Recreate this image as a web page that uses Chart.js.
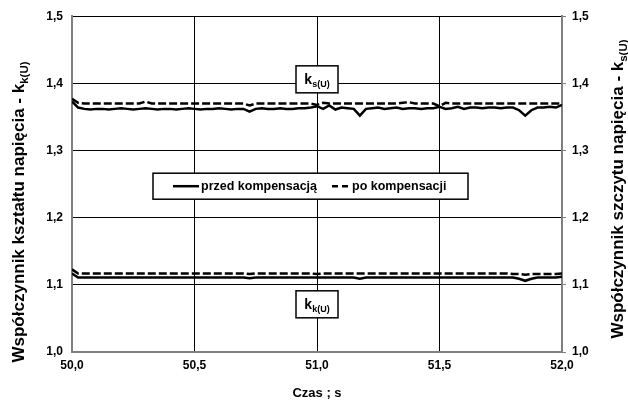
<!DOCTYPE html>
<html><head><meta charset="utf-8">
<script src="https://cdn.jsdelivr.net/npm/chart.js@4/dist/chart.umd.min.js"></script>
<style>html,body{margin:0;padding:0;background:#fff;}#wrap{width:628px;height:403px;position:relative;}</style>
</head><body><div id="wrap"><canvas id="c" width="628" height="403"></canvas></div>
<script>
// ---- data ----
const times = [50.000,50.025,50.050,50.075,50.100,50.125,50.150,50.175,50.200,50.225,50.250,50.275,50.300,50.325,50.350,50.375,50.400,50.425,50.450,50.475,
50.500,50.525,50.550,50.575,50.600,50.625,50.650,50.675,50.700,50.725,50.750,50.775,50.800,50.825,50.850,50.875,50.900,50.925,50.950,50.975,
51.000,51.025,51.050,51.075,51.100,51.125,51.150,51.175,51.200,51.225,51.250,51.275,51.300,51.325,51.350,51.375,51.400,51.425,51.450,51.475,
51.500,51.525,51.550,51.575,51.600,51.625,51.650,51.675,51.700,51.725,51.750,51.775,51.800,51.825,51.850,51.875,51.900,51.925,51.950,51.975,52.000];
// k_s(U) before compensation (solid)
const ksBefore = [1.373,1.364,1.362,1.361,1.362,1.362,1.361,1.362,1.363,1.362,1.361,1.362,1.363,1.362,1.361,1.362,1.362,1.361,1.362,1.363,
1.362,1.361,1.362,1.362,1.363,1.362,1.361,1.362,1.362,1.358,1.362,1.363,1.362,1.362,1.363,1.362,1.362,1.363,1.363,1.364,
1.366,1.362,1.367,1.361,1.364,1.363,1.362,1.352,1.362,1.363,1.364,1.362,1.363,1.364,1.362,1.363,1.363,1.362,1.363,1.363,
1.365,1.362,1.363,1.365,1.362,1.364,1.364,1.363,1.364,1.364,1.363,1.364,1.364,1.360,1.352,1.360,1.364,1.364,1.365,1.364,1.368];
// k_s(U) after compensation (dashed)
const ksAfter = [1.377,1.371,1.370,1.370,1.370,1.370,1.370,1.370,1.370,1.370,1.370,1.370,1.373,1.370,1.370,1.370,1.370,1.370,1.370,1.370,
1.370,1.370,1.370,1.370,1.370,1.370,1.370,1.370,1.370,1.367,1.370,1.370,1.370,1.370,1.370,1.370,1.370,1.370,1.370,1.370,
1.368,1.371,1.370,1.370,1.370,1.370,1.370,1.370,1.370,1.370,1.370,1.370,1.370,1.370,1.371,1.372,1.370,1.370,1.370,1.370,
1.366,1.371,1.370,1.370,1.370,1.370,1.370,1.370,1.370,1.370,1.370,1.370,1.370,1.370,1.370,1.370,1.370,1.370,1.370,1.370,1.370];
// k_k(U) before compensation (solid)
const kkBefore = [1.117,1.111,1.111,1.111,1.111,1.111,1.111,1.111,1.111,1.111,1.111,1.111,1.111,1.111,1.111,1.111,1.111,1.111,1.111,1.111,
1.111,1.111,1.111,1.111,1.111,1.111,1.111,1.111,1.111,1.110,1.111,1.111,1.111,1.111,1.111,1.111,1.111,1.111,1.111,1.111,
1.111,1.111,1.111,1.111,1.111,1.111,1.111,1.109,1.111,1.111,1.111,1.111,1.111,1.111,1.111,1.111,1.111,1.111,1.111,1.111,
1.111,1.111,1.111,1.111,1.111,1.111,1.111,1.111,1.111,1.111,1.111,1.111,1.111,1.109,1.106,1.109,1.111,1.111,1.111,1.111,1.112];
// k_k(U) after compensation (dashed)
const kkAfter = [1.123,1.117,1.117,1.117,1.117,1.117,1.117,1.117,1.117,1.117,1.117,1.117,1.117,1.117,1.117,1.117,1.117,1.117,1.117,1.117,
1.117,1.117,1.117,1.117,1.117,1.117,1.117,1.117,1.117,1.116,1.117,1.117,1.117,1.117,1.117,1.117,1.117,1.117,1.117,1.117,
1.116,1.117,1.117,1.117,1.117,1.117,1.117,1.117,1.117,1.117,1.117,1.117,1.117,1.117,1.117,1.117,1.117,1.117,1.117,1.117,
1.117,1.117,1.117,1.117,1.117,1.117,1.117,1.117,1.117,1.117,1.117,1.117,1.116,1.116,1.115,1.116,1.116,1.116,1.116,1.116,1.117];
const yTickValues = [1.0,1.1,1.2,1.3,1.4,1.5];
const xTickValues = [50.0,50.5,51.0,51.5,52.0];
const seriesNames = ['przed kompensacją','po kompensacji'];
const xTitle = 'Czas ; s';
const yTitleLeft = [['Współczynnik kształtu napięcia - k',false],['k(U)',true]];
const yTitleRight = [['Współczynnik szczytu napięcia - k',false],['s(U)',true]];
const boxLabelS = [['k',false],['s(U)',true]];
const boxLabelK = [['k',false],['k(U)',true]];

// ---- styling / layout ----
const FONT = '"Liberation Sans", Arial, sans-serif';
const fmt = v => Number(v).toFixed(1).replace('.', ',');
const pts = arr => times.map((t, i) => ({x: t, y: arr[i]}));
const GRAY = '#808080';
const DASH = [8, 3];

function richText(ctx, parts, cx, cy, rot, mainFont, subFont, subShift) {
  ctx.save();
  ctx.translate(cx, cy); ctx.rotate(rot);
  ctx.textBaseline = 'alphabetic'; ctx.textAlign = 'left'; ctx.fillStyle = '#000';
  let w = 0;
  parts.forEach(p => { ctx.font = p[1] ? subFont : mainFont; w += ctx.measureText(p[0]).width; });
  let x = -w / 2;
  parts.forEach(p => { ctx.font = p[1] ? subFont : mainFont; ctx.fillText(p[0], x, p[1] ? subShift : 0); x += ctx.measureText(p[0]).width; });
  ctx.restore();
}

const overlay = {
  id: 'overlay',
  afterDraw(chart) {
    const ctx = chart.ctx, ca = chart.chartArea;
    const xs = chart.scales.x, ys = chart.scales.y;
    // axis titles
    richText(ctx, yTitleLeft, 24, 212, -Math.PI/2, 'bold 17px ' + FONT, 'bold 11.5px ' + FONT, 4);
    richText(ctx, yTitleRight, 623, 189, -Math.PI/2, 'bold 17px ' + FONT, 'bold 11.5px ' + FONT, 4);
    richText(ctx, [[xTitle,false]], (ca.left + ca.right)/2, 397, 0, 'bold 13px ' + FONT, 'bold 9px ' + FONT, 3);
    // label boxes
    const box = (parts, xv, yv) => {
      const cx = xs.getPixelForValue(xv), cy = ys.getPixelForValue(yv);
      const w = 42, h = 27;
      ctx.save();
      ctx.fillStyle = '#fff'; ctx.fillRect(cx - w/2, cy - h/2, w, h);
      ctx.strokeStyle = '#000'; ctx.lineWidth = 1.5; ctx.strokeRect(cx - w/2, cy - h/2, w, h);
      ctx.restore();
      richText(ctx, parts, cx, cy + 5, 0, 'bold 14px ' + FONT, 'bold 9px ' + FONT, 3);
    };
    box(boxLabelS, 51.0, 1.406);
    box(boxLabelK, 51.0, 1.071);
    // legend
    const lx = ca.left + 81, ly = ca.top + 157, lw = 315, lh = 26;
    ctx.save();
    ctx.fillStyle = '#fff'; ctx.fillRect(lx, ly, lw, lh);
    ctx.strokeStyle = '#000'; ctx.lineWidth = 1.5; ctx.strokeRect(lx, ly, lw, lh);
    const my = ly + lh/2;
    ctx.lineWidth = 2.5; ctx.strokeStyle = '#000';
    ctx.beginPath(); ctx.moveTo(lx + 20, my); ctx.lineTo(lx + 46, my); ctx.stroke();
    ctx.setLineDash([6, 4]);
    ctx.beginPath(); ctx.moveTo(lx + 179, my); ctx.lineTo(lx + 197, my); ctx.stroke();
    ctx.setLineDash([]);
    ctx.fillStyle = '#000'; ctx.font = 'bold 12.5px ' + FONT; ctx.textBaseline = 'middle'; ctx.textAlign = 'left';
    ctx.fillText(seriesNames[0], lx + 48, my);
    ctx.fillText(seriesNames[1], lx + 199, my);
    ctx.restore();
  }
};

const lineDs = (label, arr, dashed) => ({
  label, data: pts(arr), borderColor: '#000', borderWidth: 2.5, pointRadius: 0,
  borderDash: dashed ? DASH : [], tension: 0, fill: false
});

const tickFont = {family: FONT, size: 12, weight: 'bold'};
const gridColorY = c => (c.tick && c.tick.value === 1.0) ? 'rgba(0,0,0,0)' : '#000';
const gridColorX = c => (c.tick && (c.tick.value === 50 || c.tick.value === 52)) ? 'rgba(0,0,0,0)' : '#000';

new Chart(document.getElementById('c'), {
  type: 'line',
  data: { datasets: [
    lineDs(seriesNames[0], ksBefore, false),
    lineDs(seriesNames[1], ksAfter, true),
    lineDs(seriesNames[0], kkBefore, false),
    lineDs(seriesNames[1], kkAfter, true)
  ]},
  options: {
    responsive: false, animation: false, devicePixelRatio: 1,
    layout: { padding: { top: 15, left: 0, right: 0, bottom: 0 } },
    plugins: { legend: { display: false }, tooltip: { enabled: false } },
    scales: {
      x: {
        type: 'linear', min: 50, max: 52,
        afterBuildTicks: s => { s.ticks = xTickValues.map(v => ({value: v})); },
        ticks: { callback: fmt, font: tickFont, color: '#000', maxRotation: 0, padding: 6, autoSkip: false },
        grid: { color: gridColorX, lineWidth: 1, drawTicks: false },
        border: { color: GRAY, width: 2 },
        afterFit: s => { s.height = 51; }
      },
      y: {
        position: 'left', min: 1.0, max: 1.5,
        afterBuildTicks: s => { s.ticks = yTickValues.map(v => ({value: v})); },
        ticks: { callback: fmt, font: tickFont, color: '#000', padding: 9 },
        grid: { color: gridColorY, lineWidth: 1, drawTicks: false },
        border: { color: GRAY, width: 2 },
        afterFit: s => { s.width = 72; }
      },
      y2: {
        position: 'right', min: 1.0, max: 1.5,
        afterBuildTicks: s => { s.ticks = yTickValues.map(v => ({value: v})); },
        ticks: { callback: fmt, font: tickFont, color: '#000', padding: 6 },
        grid: { drawOnChartArea: false, drawTicks: true, tickLength: 4, color: GRAY },
        border: { color: GRAY, width: 2 },
        afterFit: s => { s.width = 66; }
      }
    }
  },
  plugins: [overlay]
});
</script>
</body></html>
